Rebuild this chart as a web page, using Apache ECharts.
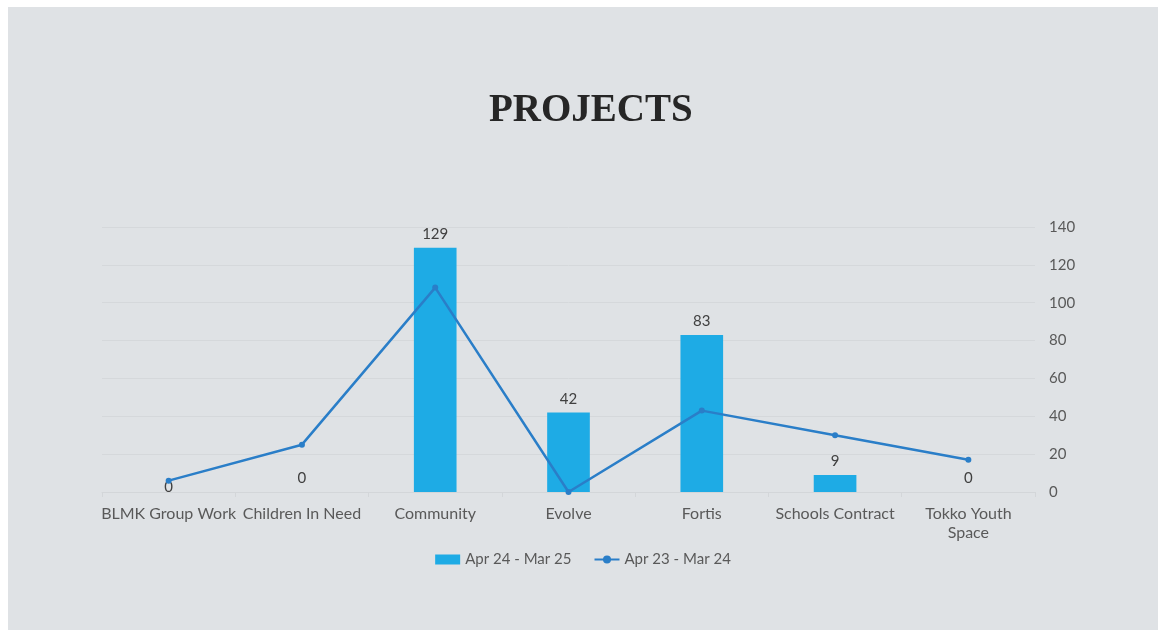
<!DOCTYPE html>
<html>
<head>
<meta charset="utf-8">
<style>
    html, body { margin: 0; padding: 0; background: #ffffff; }
    #projects_chart { position: absolute; left: 8px; top: 7px; width: 1150px; height: 623px; background: #dfe2e5; }
</style>
</head>
<body>
<div id="projects_chart"></div>
<script src="https://cdn.jsdelivr.net/npm/echarts@6/dist/echarts.min.js"></script>
<script type="text/javascript">
    var categories = ['BLMK Group Work', 'Children In Need', 'Community', 'Evolve', 'Fortis', 'Schools Contract', 'Tokko Youth Space'];
    var thisYear = [0, 0, 129, 42, 83, 9, 0];
    var lastYear = [6, 25, 108, 0, 43, 30, 17];
    var yTicks = [0, 20, 40, 60, 80, 100, 120, 140];

    var textFont = '"Century Gothic", Lato, "Open Sans", sans-serif';
    var textColor = '#595959';

    function createProjectsChart() {
        var chart = echarts.init(document.getElementById('projects_chart'));
        chart.setOption({
            backgroundColor: 'transparent',
            animation: false,
            title: {
                text: 'PROJECTS',
                left: 476,
                top: 79,
                textStyle: {
                    fontFamily: '"Liberation Serif", "DejaVu Serif", serif',
                    fontWeight: 'bold',
                    fontSize: 39,
                    color: '#262626'
                }
            },
            legend: {
                bottom: 58,
                left: 'center',
                itemWidth: 25,
                itemHeight: 10,
                itemGap: 22,
                textStyle: { fontFamily: textFont, fontSize: 15, color: textColor },
                data: [
                    { name: 'Apr 24 - Mar 25', icon: 'rect' },
                    { name: 'Apr 23 - Mar 24' }
                ]
            },
            grid: { left: 94, right: 123, top: 220, bottom: 138 },
            xAxis: {
                type: 'category',
                data: categories,
                axisLine: { lineStyle: { color: '#d3d6d9' } },
                axisTick: { show: true, length: 5, lineStyle: { color: '#d3d6d9' } },
                axisLabel: {
                    interval: 0,
                    margin: 12,
                    fontFamily: textFont,
                    fontSize: 16,
                    color: textColor,
                    lineHeight: 19,
                    formatter: function (v) { return v.replace('Youth ', 'Youth\n'); }
                }
            },
            yAxis: {
                type: 'value',
                position: 'right',
                min: yTicks[0],
                max: yTicks[yTicks.length - 1],
                interval: 20,
                axisLine: { show: false },
                axisTick: { show: false },
                splitLine: { lineStyle: { color: '#d5d8db' } },
                axisLabel: { margin: 14, fontFamily: textFont, fontSize: 15, color: textColor }
            },
            series: [
                {
                    name: 'Apr 24 - Mar 25',
                    type: 'bar',
                    barWidth: '32%',
                    itemStyle: { color: '#1eabe5' },
                    label: {
                        show: true,
                        position: 'top',
                        distance: 6,
                        fontFamily: textFont,
                        fontSize: 15,
                        color: '#404040'
                    },
                    data: thisYear.map(function (v, i) {
                        if (i === 0) return { value: v, label: { position: 'bottom', distance: -12 } };
                        return v;
                    }),
                    z: 2
                },
                {
                    name: 'Apr 23 - Mar 24',
                    type: 'line',
                    symbol: 'circle',
                    symbolSize: 6,
                    itemStyle: { color: '#2a7ec8' },
                    lineStyle: { color: '#2a7ec8', width: 2.5 },
                    data: lastYear,
                    z: 3
                }
            ]
        });
    }

    createProjectsChart();
</script>
</body>
</html>
